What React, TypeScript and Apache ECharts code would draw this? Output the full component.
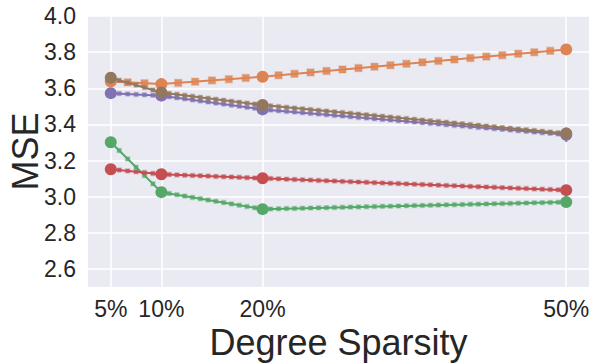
import React, { useEffect, useRef } from "react";
import * as echarts from "echarts";

const sparsity = [5, 10, 20, 50];
const yTicks = [2.6, 2.8, 3.0, 3.2, 3.4, 3.6, 3.8, 4.0];

const orangeVals = [3.638, 3.623, 3.664, 3.815];
const greenVals = [3.301, 3.025, 2.931, 2.97];
const redVals = [3.152, 3.124, 3.102, 3.036];
const purpleVals = [3.573, 3.559, 3.483, 3.343];
const brownVals = [3.658, 3.577, 3.507, 3.35];

// error bar half-widths
const purpleErr = [0, 0, 0.01, 0.04];
const brownErr = [0, 0, 0.025, 0.02];

const FONT = "Liberation Sans, Arial, sans-serif";
const TEXT = "#262626";

function lineSeries(name: string, vals: number[], color: string, z: number) {
  return {
    type: "line",
    name,
    data: vals.map((v, i) => [sparsity[i], v]),
    symbol: "circle",
    symbolSize: 12,
    z,
    lineStyle: { color, width: 2 },
    itemStyle: { color, borderWidth: 0 },
  };
}

function decorSeries(name: string, vals: number[], color: string, stepPx: number, size: number, z: number) {
  return {
    type: "custom",
    name: name + "-dots",
    silent: true,
    z,
    data: vals.map((v, i) => [sparsity[i], v]),
    renderItem: (params: any, api: any) => {
      const i = params.dataIndex;
      if (i >= vals.length - 1) return { type: "group", children: [] };
      const p0 = api.coord([sparsity[i], vals[i]]);
      const p1 = api.coord([sparsity[i + 1], vals[i + 1]]);
      const dx = p1[0] - p0[0];
      const n = Math.max(1, Math.round(dx / stepPx));
      const children: any[] = [];
      for (let k = 1; k < n; k++) {
        const t = k / n;
        const x = p0[0] + dx * t;
        const y = p0[1] + (p1[1] - p0[1]) * t;
        children.push({
          type: "rect",
          shape: { x: x - size / 2, y: y - size / 2, width: size, height: size },
          style: { fill: color, opacity: 0.85, stroke: color, lineWidth: 1.5, strokeOpacity: 0.35 },
        });
      }
      return { type: "group", children };
    },
  };
}

function errSeries(name: string, vals: number[], errs: number[], color: string, z: number) {
  return {
    type: "custom",
    name: name + "-err",
    silent: true,
    z,
    data: vals.map((v, i) => [sparsity[i], v - errs[i], v + errs[i]]),
    renderItem: (params: any, api: any) => {
      const lo = api.coord([api.value(0), api.value(1)]);
      const hi = api.coord([api.value(0), api.value(2)]);
      return {
        type: "line",
        shape: { x1: lo[0], y1: lo[1], x2: hi[0], y2: hi[1] },
        style: { stroke: color, lineWidth: 2 },
      };
    },
  };
}

export default function App() {
  const ref = useRef<HTMLDivElement>(null);
  useEffect(() => {
    if (!ref.current) return;
    const chart = echarts.init(ref.current, null, { renderer: "svg" });
    const orange = "#DD8452";
    const green = "#55A868";
    const red = "#C44E52";
    const purple = "#8172B3";
    const brown = "#937860";
    chart.setOption({
      animation: false,
      backgroundColor: "#ffffff",
      grid: {
        left: 88,
        right: 8,
        top: 16,
        bottom: 77,
        containLabel: false,
        outerBoundsMode: "none",
        show: true,
        backgroundColor: "#EAEAF2",
        borderWidth: 0,
      },
      xAxis: {
        type: "value",
        min: 2.75,
        max: 52.25,
        name: "Degree Sparsity",
        nameLocation: "middle",
        nameGap: 35,
        nameTextStyle: { fontSize: 36, color: TEXT, fontFamily: FONT },
        axisLine: { show: false },
        axisTick: { show: false, customValues: sparsity },
        axisLabel: {
          customValues: sparsity,
          formatter: (v: number) => v + "%",
          fontSize: 23,
          color: TEXT,
          fontFamily: FONT,
          margin: 10,
        },
        splitLine: { show: true, lineStyle: { color: "#ffffff", width: 1.5 } },
      },
      yAxis: {
        type: "value",
        min: 2.5,
        max: 4.0,
        name: "MSE",
        nameLocation: "middle",
        nameGap: 45,
        nameMoveOverlap: false,
        nameTextStyle: { fontSize: 36, color: TEXT, fontFamily: FONT },
        axisLine: { show: false },
        axisTick: { show: false, customValues: yTicks },
        axisLabel: {
          customValues: yTicks,
          formatter: (v: number) => v.toFixed(1),
          fontSize: 23,
          color: TEXT,
          fontFamily: FONT,
          margin: 12,
        },
        splitLine: { show: true, lineStyle: { color: "#ffffff", width: 1.5 } },
      },
      series: [
        lineSeries("orange", orangeVals, orange, 2),
        decorSeries("orange", orangeVals, orange, 16, 7, 3),
        lineSeries("green", greenVals, green, 4),
        decorSeries("green", greenVals, green, 8, 4, 5),
        lineSeries("red", redVals, red, 6),
        decorSeries("red", redVals, red, 8, 4, 7),
        lineSeries("purple", purpleVals, purple, 8),
        decorSeries("purple", purpleVals, purple, 8, 4, 9),
        errSeries("purple", purpleVals, purpleErr, purple, 9),
        lineSeries("brown", brownVals, brown, 10),
        decorSeries("brown", brownVals, brown, 8, 4, 11),
        errSeries("brown", brownVals, brownErr, brown, 11),
      ],
    });
    return () => chart.dispose();
  }, []);
  return (
    <div
      ref={ref}
      style={{ position: "fixed", left: 0, top: 0, width: 597, height: 364 }}
    />
  );
}
